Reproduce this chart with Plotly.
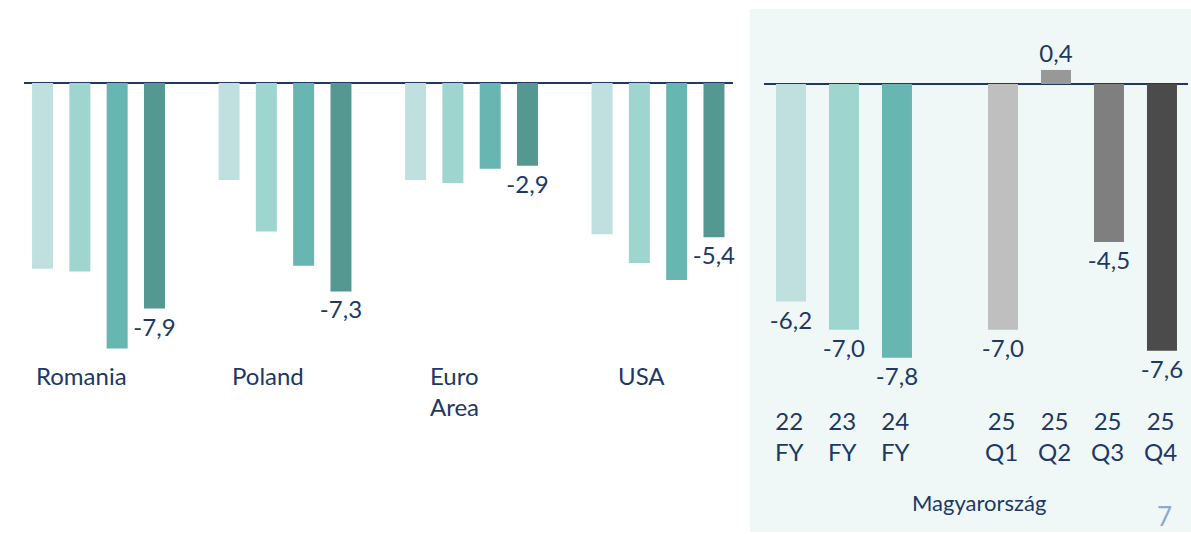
import plotly.graph_objects as go

W, H = 1191, 534

# ---- data: left panel (country comparison) ----
countries = ["Romania", "Poland", "Euro<br>Area", "USA"]
series_names = ["2022", "2023", "2024", "2025"]
vals_2022 = [-6.5, -3.4, -3.4, -5.3]
vals_2023 = [-6.6, -5.2, -3.5, -6.3]
vals_2024 = [-9.3, -6.4, -3.0, -6.9]
vals_2025 = [-7.9, -7.3, -2.9, -5.4]
left_series = [vals_2022, vals_2023, vals_2024, vals_2025]
teal_colors = ["#bfe0de", "#9ed5cf", "#67b6b2", "#559892"]

# ---- data: right panel (Magyarország) ----
hu_periods = ["22<br>FY", "23<br>FY", "24<br>FY", " ", "25<br>Q1", "25<br>Q2", "25<br>Q3", "25<br>Q4"]
hu_values = [-6.2, -7.0, -7.8, None, -7.0, 0.4, -4.5, -7.6]
hu_colors = ["#bfe0de", "#9ed5cf", "#67b6b2", "#ffffff", "#bfbfbf", "#989898", "#7f7f7f", "#4b4b4b"]
hu_title = "Magyarország"
page_number = "7"

NAVY = "#203864"
FONT = "Lato"
LABEL_SIZE = 24


def py(pix):
    return 1 - pix / H


def px(pix):
    return pix / W


fig = go.Figure()

for i, (name, vals) in enumerate(zip(series_names, left_series)):
    fig.add_trace(go.Bar(
        x=countries, y=vals, name=name,
        marker=dict(color=teal_colors[i], line=dict(width=0)),
        texttemplate="%{y:.1f}" if i == 3 else None,
        textposition="outside" if i == 3 else "none",
        textfont=dict(family=FONT, size=LABEL_SIZE, color=NAVY),
        constraintext="none", cliponaxis=False,
        xaxis="x", yaxis="y", showlegend=False,
    ))

fig.add_trace(go.Bar(
    x=hu_periods, y=hu_values, name=hu_title,
    marker=dict(color=hu_colors, line=dict(width=0)),
    width=0.566,
    texttemplate="%{y:.1f}", textposition="outside",
    textfont=dict(family=FONT, size=LABEL_SIZE, color=NAVY),
    constraintext="none", cliponaxis=False,
    xaxis="x2", yaxis="y2", showlegend=False,
))

# pixel geometry
ytop, ybot = 20, 380
left_zero, left_scale = 83, 28.56
right_zero, right_scale = 84, 35.1

axis_common = dict(showgrid=False, showline=False, showticklabels=False, ticks="")

fig.update_layout(
    width=W, height=H, autosize=False,
    margin=dict(l=0, r=0, t=0, b=0, pad=0),
    paper_bgcolor="white", plot_bgcolor="rgba(0,0,0,0)",
    barmode="group", bargap=0.2, bargroupgap=0.437,
    separators=", ",
    font=dict(family=FONT, color=NAVY),
    xaxis=dict(domain=[px(24), px(733)], range=[-0.3995, 3.402], type="category",
               anchor="y", **axis_common),
    yaxis=dict(domain=[py(ybot), py(ytop)],
               range=[-(ybot - left_zero) / left_scale, (left_zero - ytop) / left_scale],
               zeroline=True, zerolinecolor=NAVY, zerolinewidth=2, anchor="x", **axis_common),
    xaxis2=dict(domain=[px(764), px(1188)], range=[-0.509, 7.491], type="category",
                anchor="y2", **axis_common),
    yaxis2=dict(domain=[py(ybot), py(ytop)],
                range=[-(ybot - right_zero) / right_scale, (right_zero - ytop) / right_scale],
                zeroline=True, zerolinecolor=NAVY, zerolinewidth=2, anchor="x2", **axis_common),
)

# right panel background
fig.add_shape(type="rect", xref="paper", yref="paper",
              x0=px(750), x1=1, y0=py(532), y1=py(9),
              fillcolor="#eff8f7", line=dict(width=0), layer="below")

annotations = []
for c in countries:
    two = "<br>" in c
    annotations.append(dict(
        x=c, xref="x", y=py(390.5 if two else 375), yref="paper",
        text=c, showarrow=False, xshift=-17, align="left",
        xanchor="center", yanchor="middle",
        font=dict(family=FONT, size=LABEL_SIZE, color=NAVY),
    ))
for p in hu_periods:
    if p.strip():
        annotations.append(dict(
            x=p, xref="x2", y=py(436), yref="paper",
            text=p, showarrow=False, xanchor="center", yanchor="middle", xshift=-1,
            font=dict(family=FONT, size=LABEL_SIZE, color=NAVY),
        ))
annotations.append(dict(
    x=px(978.5), xref="paper", y=py(502), yref="paper", text=hu_title,
    showarrow=False, xanchor="center", yanchor="middle",
    font=dict(family=FONT, size=22, color=NAVY),
))
annotations.append(dict(
    x=px(1164), xref="paper", y=py(534), yref="paper", text=page_number,
    showarrow=False, xanchor="center", yanchor="bottom",
    font=dict(family=FONT, size=26, color="#8eaacc"),
))
fig.update_layout(annotations=annotations)

fig.write_html("out.html", config={"displayModeBar": False},
               post_script="document.body.style.margin='0';document.body.style.overflow='hidden';")
